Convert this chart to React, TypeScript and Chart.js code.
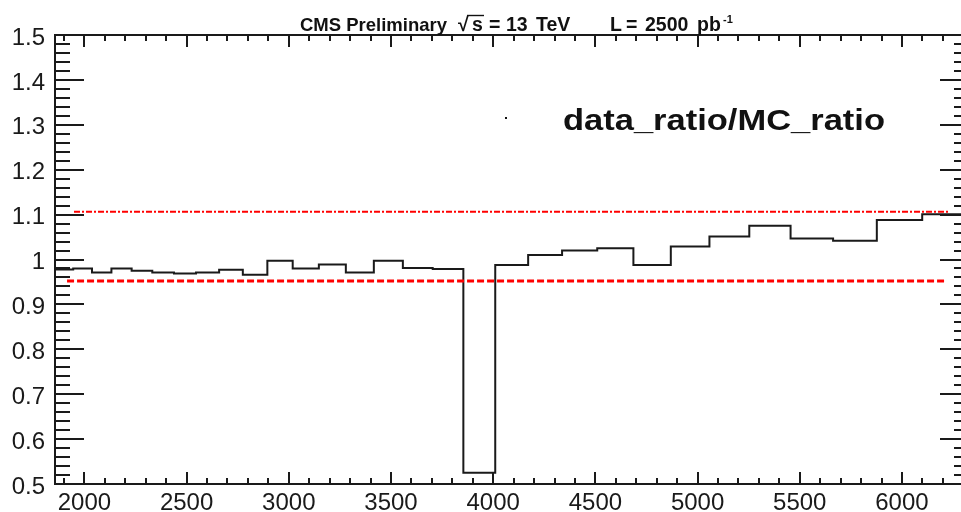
import React, { useEffect, useRef } from "react";
import { Chart, registerables } from "chart.js";

Chart.register(...registerables);

// ---- data ----
const binEdges = [
  1856, 1945, 2037, 2132, 2231, 2332, 2438, 2546, 2659, 2775, 2895, 3019, 3147,
  3279, 3416, 3558, 3704, 3854, 4010, 4171, 4337, 4509, 4686, 4869, 5058, 5253,
  5455, 5663, 5877, 6099, 6328,
];
const ratioValues = [
  0.978, 0.98, 0.971, 0.98, 0.975, 0.971, 0.969, 0.971, 0.977, 0.966, 0.997,
  0.98, 0.989, 0.971, 0.997, 0.981, 0.979, 0.525, 0.988, 1.01, 1.02, 1.025,
  0.988, 1.029, 1.051, 1.075, 1.047, 1.042, 1.088, 1.101,
];
const xMajorTicks = [2000, 2500, 3000, 3500, 4000, 4500, 5000, 5500, 6000];
const yMajorTicks = [0.5, 0.6, 0.7, 0.8, 0.9, 1.0, 1.1, 1.2, 1.3, 1.4, 1.5];
const upperBandX = [1949, 6230];
const upperBandY = 1.1065;
const lowerBandX = [1915, 6206];
const lowerBandY = 0.952;
const X_MIN = 1856;
const X_MAX = 6328;
const Y_MIN = 0.5;
const Y_MAX = 1.5;
const X_MINOR_STEP = 100;
const Y_MINOR_STEP = 0.02;

const titleCMS = "CMS Preliminary";
const titleLumiExp = "-1";
const panelLabel = "data_ratio/MC_ratio";

const FONT = '"Liberation Sans", Arial, Helvetica, sans-serif';

function histogramPoints() {
  const pts: { x: number; y: number }[] = [];
  for (let i = 0; i < ratioValues.length; i++) {
    pts.push({ x: binEdges[i], y: ratioValues[i] });
    pts.push({ x: binEdges[i + 1], y: ratioValues[i] });
  }
  return pts;
}

const framePlugin = {
  id: "rootFrame",
  afterDatasetsDraw(chart: any) {
    const { ctx, chartArea } = chart;
    const xs = chart.scales.x;
    const ys = chart.scales.y;
    const { left, right, top, bottom } = chartArea;
    ctx.save();
    ctx.strokeStyle = "#1a1a1a";
    ctx.lineWidth = 2;
    ctx.lineCap = "butt";
    ctx.beginPath();
    for (let v = Math.ceil(X_MIN / X_MINOR_STEP) * X_MINOR_STEP; v <= X_MAX; v += X_MINOR_STEP) {
      const major = v % 500 === 0;
      const len = major ? 12 : 6;
      const px = Math.round(xs.getPixelForValue(v));
      ctx.moveTo(px, bottom);
      ctx.lineTo(px, bottom - len);
      ctx.moveTo(px, top);
      ctx.lineTo(px, top + len);
    }
    const nMinor = Math.round((Y_MAX - Y_MIN) / Y_MINOR_STEP);
    for (let i = 0; i <= nMinor; i++) {
      const v = Y_MIN + i * Y_MINOR_STEP;
      const major = i % 5 === 0;
      const len = major ? 29 : 15;
      const py = Math.round(ys.getPixelForValue(v));
      ctx.moveTo(left, py);
      ctx.lineTo(left + len, py);
      ctx.moveTo(right, py);
      ctx.lineTo(right - len, py);
    }
    ctx.stroke();
    ctx.strokeRect(left, top, right - left, bottom - top);
    ctx.restore();
  },
  afterDraw(chart: any) {
    const { ctx } = chart;
    ctx.save();
    ctx.fillStyle = "#111";
    ctx.textBaseline = "alphabetic";
    ctx.textAlign = "left";
    const base = 31;
    // title line
    ctx.font = `bold 18.5px ${FONT}`;
    ctx.fillText(titleCMS, 300, base);
    ctx.font = `bold 19.5px ${FONT}`;
    ctx.fillText("\u221A", 458, base);
    ctx.fillText("s", 472, base);
    ctx.strokeStyle = "#111";
    ctx.lineWidth = 1.4;
    ctx.beginPath();
    ctx.moveTo(467, 15.5);
    ctx.lineTo(484, 15.5);
    ctx.stroke();
    ctx.fillText("=", 489, base);
    ctx.fillText("13", 506, base);
    ctx.fillText("TeV", 536, base);
    ctx.fillText("L", 610, base);
    ctx.fillText("=", 626, base);
    ctx.fillText("2500", 645, base);
    ctx.fillText("pb", 697, base);
    ctx.font = `bold 11px ${FONT}`;
    ctx.fillText(titleLumiExp, 723, 23);
    // panel label
    ctx.font = `bold 30px ${FONT}`;
    const w = ctx.measureText(panelLabel).width;
    const sx = 322 / w;
    ctx.translate(563, 130);
    ctx.scale(sx, 1);
    ctx.fillText(panelLabel, 0, 0);
    ctx.restore();
    // stray legend marker dot
    ctx.save();
    ctx.fillStyle = "#111";
    ctx.fillRect(505, 117, 2, 2);
    ctx.restore();
  },
};

export default function App() {
  const canvasRef = useRef<HTMLCanvasElement | null>(null);

  useEffect(() => {
    if (!canvasRef.current) return;
    const chart = new Chart(canvasRef.current, {
      type: "line",
      data: {
        datasets: [
          {
            label: "ratio",
            data: histogramPoints(),
            borderColor: "#1a1a1a",
            borderWidth: 2,
            pointRadius: 0,
            fill: false,
            tension: 0,
            order: 2,
          },
          {
            label: "upper",
            data: upperBandX.map((x) => ({ x, y: upperBandY })),
            borderColor: "#ff0000",
            borderWidth: 2,
            borderDash: [6, 2, 2, 2],
            pointRadius: 0,
            fill: false,
            order: 1,
          },
          {
            label: "lower",
            data: lowerBandX.map((x) => ({ x, y: lowerBandY })),
            borderColor: "#ff0000",
            borderWidth: 3,
            borderDash: [7, 3],
            pointRadius: 0,
            fill: false,
            order: 1,
          },
        ],
      },
      options: {
        animation: false,
        responsive: false,
        layout: { padding: { top: 35, right: 31, left: 0, bottom: 0 } },
        plugins: {
          legend: { display: false },
          tooltip: { enabled: false },
          title: { display: false },
        },
        scales: {
          x: {
            type: "linear",
            min: X_MIN,
            max: X_MAX,
            grid: { display: false, drawTicks: false },
            border: { display: false },
            afterBuildTicks: (scale: any) => {
              scale.ticks = xMajorTicks.map((v) => ({ value: v }));
            },
            afterFit: (scale: any) => {
              scale.height = 28;
            },
            ticks: {
              autoSkip: false,
              maxRotation: 0,
              padding: 5,
              color: "#1a1a1a",
              font: { family: FONT, size: 24 },
              callback: (v: any) => String(v),
            },
          },
          y: {
            type: "linear",
            min: Y_MIN,
            max: Y_MAX,
            grid: { display: false, drawTicks: false },
            border: { display: false },
            afterBuildTicks: (scale: any) => {
              scale.ticks = yMajorTicks.map((v) => ({ value: v }));
            },
            afterFit: (scale: any) => {
              scale.width = 55;
            },
            ticks: {
              autoSkip: false,
              padding: 10,
              labelOffset: 3,
              color: "#1a1a1a",
              font: { family: FONT, size: 24 },
              callback: (v: any) => String(Math.round(Number(v) * 10) / 10),
            },
          },
        },
      },
      plugins: [framePlugin],
    } as any);
    return () => chart.destroy();
  }, []);

  return (
    <div
      style={{
        position: "fixed",
        left: 0,
        top: 0,
        width: 961,
        height: 512,
        overflow: "hidden",
        background: "#fff",
      }}
    >
      <canvas ref={canvasRef} width={1000} height={512} style={{ display: "block" }} />
    </div>
  );
}
